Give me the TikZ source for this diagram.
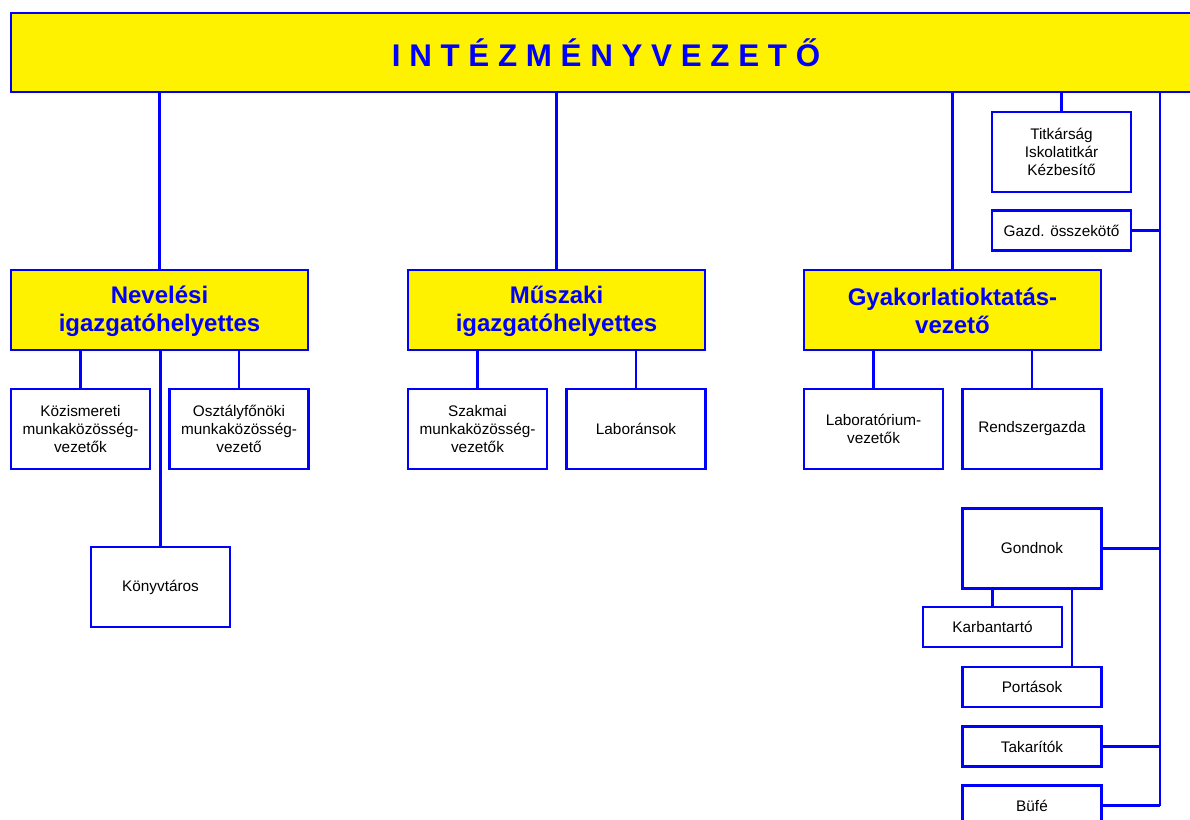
\documentclass[tikz,border=0pt]{standalone}
\usepackage{fontspec}
\setmainfont{Liberation Sans}
\usetikzlibrary{calc}

\begin{document}
\begin{tikzpicture}[x=0.75pt, y=-0.75pt,
  box/.style={draw=blue, line width=2.2pt, fill=white, inner sep=0pt, align=center,
    font=\fontsize{11.5}{13.8}\selectfont, minimum width=104.25pt, minimum height=60pt},
  lowbox/.style={box, minimum height=30pt},
  headbox/.style={box, fill=yellow, text=blue, font=\fontsize{18}{21}\selectfont\bfseries,
    minimum width=222.75pt},
  link/.style={blue, line width=1.6pt}]
  \clip (0,0) rectangle (1190,820);
  % head of the school
  \node[headbox, minimum width=892.5pt, minimum height=59.25pt, font=\fontsize{23.5}{26}\selectfont\bfseries] (top) at (606,52.5)
    {I N T É Z M É N Y V E Z E T Ő};
  % deputies
  \node[headbox] (nev) at (159.5,310) {\strut Nevelési\\igazgatóhelyettes};
  \node[headbox] (musz) at (556.5,310) {\strut Műszaki\\igazgatóhelyettes};
  \node[headbox] (gyak) at (952.5,310) {\strut Gyakorlatioktatás-\\vezető};
  % second level
  \node[box] (kozism) at (80.5,429) {Közismereti\\munkaközösség-\\vezetők};
  \node[box] (osztfo) at (239,429) {Osztályfőnöki\\munkaközösség-\\vezető};
  \node[box] (konyv) at (160.5,587) {Könyvtáros};
  \node[box] (szakmai) at (477.5,429) {Szakmai\\munkaközösség-\\vezetők};
  \node[box] (labor) at (636,429) {Laboránsok};
  \node[box] (labvez) at (873.5,429) {Laboratórium-\\vezetők};
  \node[box] (rendsz) at (1032,429) {Rendszergazda};
  % right column
  \node[box] (titk) at (1061.5,152) {Titkárság\\Iskolatitkár\\Kézbesítő};
  \node[lowbox] (gazd) at (1061.5,230.5) {Gazd. összekötő};
  \node[box] (gondnok) at (1032,548.5) {Gondnok};
  \node[lowbox] (karb) at (992.5,627) {Karbantartó};
  \node[lowbox] (portas) at (1032,687) {Portások};
  \node[lowbox] (takar) at (1032,746.5) {Takarítók};
  \node[lowbox] (bufe) at (1032,805.5) {Büfé};
  \coordinate (bus) at (1160,0);
  \coordinate (portline) at ($(portas.north)+(40,0)$);

  \draw[link] (nev.north) -- (nev.north |- top.south);
  \draw[link] (musz.north) -- (musz.north |- top.south);
  \draw[link] (gyak.north) -- (gyak.north |- top.south);
  \draw[link] (titk.north) -- (titk.north |- top.south);
  \draw[link] (kozism.north) -- (kozism.north |- nev.south);
  \draw[link] (osztfo.north) -- (osztfo.north |- nev.south);
  \draw[link] (konyv.north) -- (konyv.north |- nev.south);
  \draw[link] (szakmai.north) -- (szakmai.north |- musz.south);
  \draw[link] (labor.north) -- (labor.north |- musz.south);
  \draw[link] (labvez.north) -- (labvez.north |- gyak.south);
  \draw[link] (rendsz.north) -- (rendsz.north |- gyak.south);
  \draw[link] (top.south -| bus) -- (bufe.east -| bus);
  \draw[link] (gazd.east) -- (gazd.east -| bus);
  \draw[link] (gondnok.east) -- (gondnok.east -| bus);
  \draw[link] (takar.east) -- (takar.east -| bus);
  \draw[link] (bufe.east) -- (bufe.east -| bus);
  \draw[link] (karb.north) -- (karb.north |- gondnok.south);
  \draw[link] (portline) -- (portline |- gondnok.south);
\end{tikzpicture}
\end{document}
